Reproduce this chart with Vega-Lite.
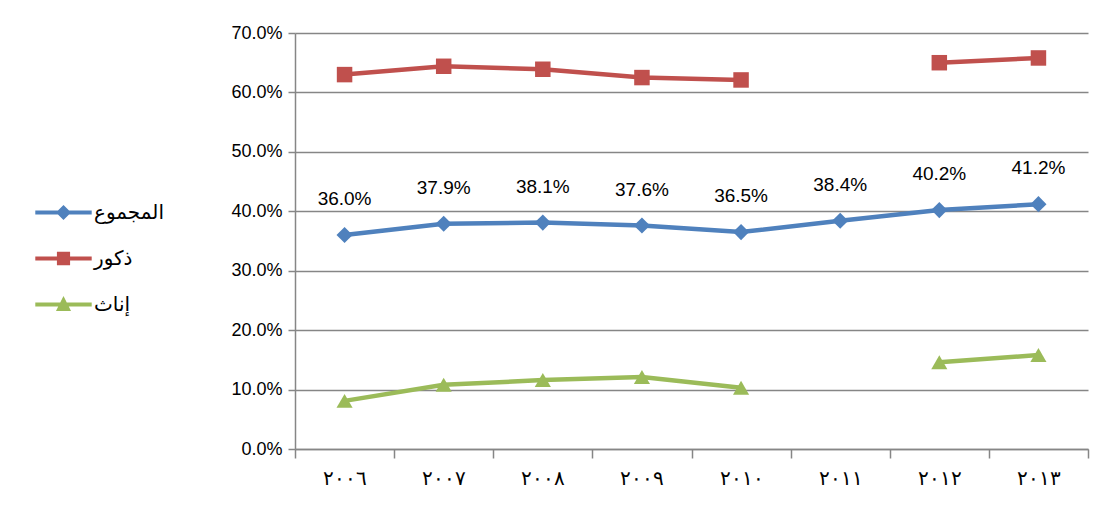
{
  "$schema": "https://vega.github.io/schema/vega-lite/v6.json",
  "width": 793,
  "height": 416,
  "autosize": {"type": "none"},
  "padding": {"left": 295, "top": 33, "right": 21, "bottom": 66},
  "background": "white",
  "config": {
    "view": {"stroke": null},
    "font": "Liberation Sans"
  },
  "data": {
    "values": [
      {"year": "٢٠٠٦", "series": "المجموع", "value": 0.360},
      {"year": "٢٠٠٧", "series": "المجموع", "value": 0.379},
      {"year": "٢٠٠٨", "series": "المجموع", "value": 0.381},
      {"year": "٢٠٠٩", "series": "المجموع", "value": 0.376},
      {"year": "٢٠١٠", "series": "المجموع", "value": 0.365},
      {"year": "٢٠١١", "series": "المجموع", "value": 0.384},
      {"year": "٢٠١٢", "series": "المجموع", "value": 0.402},
      {"year": "٢٠١٣", "series": "المجموع", "value": 0.412},
      {"year": "٢٠٠٦", "series": "ذكور", "value": 0.630},
      {"year": "٢٠٠٧", "series": "ذكور", "value": 0.644},
      {"year": "٢٠٠٨", "series": "ذكور", "value": 0.639},
      {"year": "٢٠٠٩", "series": "ذكور", "value": 0.625},
      {"year": "٢٠١٠", "series": "ذكور", "value": 0.621},
      {"year": "٢٠١١", "series": "ذكور", "value": null},
      {"year": "٢٠١٢", "series": "ذكور", "value": 0.650},
      {"year": "٢٠١٣", "series": "ذكور", "value": 0.658},
      {"year": "٢٠٠٦", "series": "إناث", "value": 0.081},
      {"year": "٢٠٠٧", "series": "إناث", "value": 0.108},
      {"year": "٢٠٠٨", "series": "إناث", "value": 0.116},
      {"year": "٢٠٠٩", "series": "إناث", "value": 0.121},
      {"year": "٢٠١٠", "series": "إناث", "value": 0.103},
      {"year": "٢٠١١", "series": "إناث", "value": null},
      {"year": "٢٠١٢", "series": "إناث", "value": 0.146},
      {"year": "٢٠١٣", "series": "إناث", "value": 0.158}
    ]
  },
  "encoding": {
    "x": {
      "field": "year",
      "type": "nominal",
      "sort": null,
      "scale": {"type": "band", "paddingInner": 0, "paddingOuter": 0},
      "axis": {
        "title": null,
        "labelAngle": 0,
        "labelFont": "Liberation Serif",
        "labelFontSize": 20,
        "labelColor": "black",
        "labelPadding": 10,
        "tickBand": "extent",
        "tickSize": 9,
        "tickColor": "#868686",
        "tickWidth": 1.5,
        "domainColor": "#868686",
        "domainWidth": 1.5,
        "grid": false
      }
    },
    "y": {
      "field": "value",
      "type": "quantitative",
      "scale": {"domain": [0, 0.7], "nice": false, "zero": true},
      "axis": {
        "title": null,
        "values": [0, 0.1, 0.2, 0.3, 0.4, 0.5, 0.6, 0.7],
        "format": ".1%",
        "labelFontSize": 18,
        "labelColor": "black",
        "labelPadding": 6,
        "tickSize": 7,
        "tickColor": "#868686",
        "tickWidth": 1.5,
        "domainColor": "#868686",
        "domainWidth": 1.5,
        "gridColor": "#868686",
        "gridWidth": 1.5
      }
    },
    "color": {
      "field": "series",
      "type": "nominal",
      "scale": {
        "domain": ["المجموع", "ذكور", "إناث"],
        "range": ["#4f81bd", "#c0504d", "#9bbb59"]
      },
      "legend": {
        "title": null,
        "orient": "none",
        "legendX": -255,
        "legendY": 156,
        "padding": 0,
        "rowPadding": 12,
        "symbolType": "circle",
        "symbolSize": 2209,
        "symbolStrokeWidth": 0,
        "labelFontSize": 20,
        "labelFont": "DejaVu Sans",
        "labelColor": "black",
        "labelOffset": 7,
        "encode": {
          "symbols": {
            "update": {
              "shape": {"signal": "datum.value === 'المجموع' ? 'M-1.2,-0.09L1.2,-0.09L1.2,0.09L-1.2,0.09ZM0,-0.32L0.32,0L0,0.32L-0.32,0Z' : (datum.value === 'ذكور' ? 'M-1.2,-0.09L1.2,-0.09L1.2,0.09L-1.2,0.09ZM-0.28,-0.29L0.28,-0.29L0.28,0.29L-0.28,0.29Z' : 'M-1.2,-0.09L1.2,-0.09L1.2,0.09L-1.2,0.09ZM0,-0.36L0.32,0.28L-0.32,0.28Z')"},
              "fill": {"signal": "datum.value === 'المجموع' ? '#4f81bd' : (datum.value === 'ذكور' ? '#c0504d' : '#9bbb59')"},
              "strokeWidth": {"value": 0},
              "opacity": {"value": 1}
            }
          }
        }
      }
    }
  },
  "layer": [
    {
      "mark": {"type": "line", "strokeWidth": 4.5, "invalid": "break-paths-show-domains"}
    },
    {
      "transform": [{"filter": "datum.series === 'المجموع'"}],
      "mark": {"type": "point", "shape": "diamond", "filled": true, "opacity": 1, "size": 260, "invalid": "filter"}
    },
    {
      "transform": [{"filter": "datum.series === 'ذكور'"}],
      "mark": {"type": "point", "shape": "square", "filled": true, "opacity": 1, "size": 240, "invalid": "filter"}
    },
    {
      "transform": [{"filter": "datum.series === 'إناث'"}],
      "mark": {"type": "point", "shape": "triangle-up", "filled": true, "opacity": 1, "size": 260, "invalid": "filter"}
    },
    {
      "transform": [{"filter": "datum.series === 'المجموع'"}],
      "mark": {"type": "text", "dy": -36, "fontSize": 19, "baseline": "middle", "align": "center"},
      "encoding": {
        "text": {"field": "value", "type": "quantitative", "format": ".1%"},
        "color": {"value": "black"}
      }
    }
  ]
}
